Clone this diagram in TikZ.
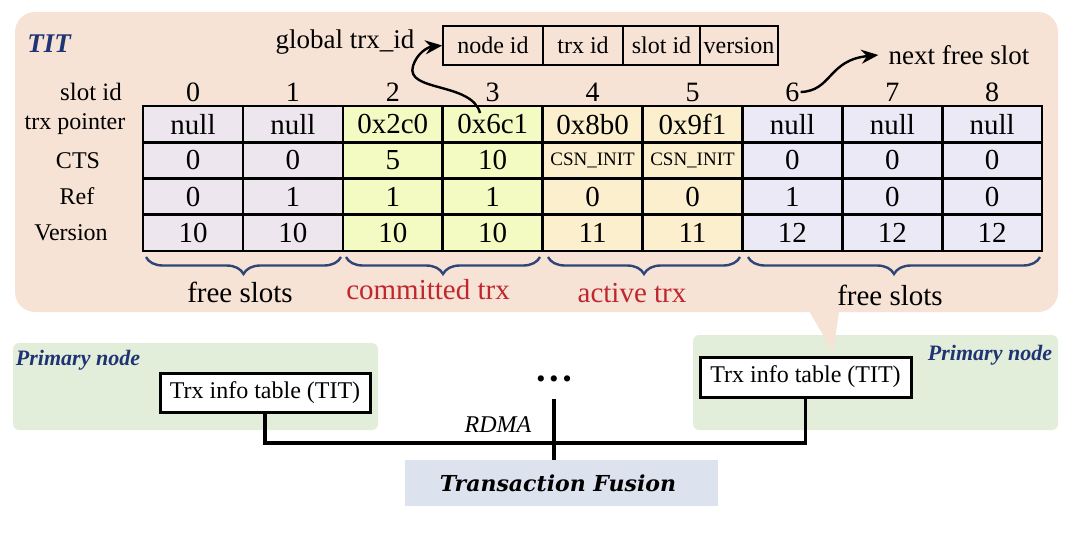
\documentclass[tikz,border=0pt]{standalone}
\usepackage{fontspec}
\setmainfont{Liberation Serif}
\newfontfamily\tffont{DejaVu Serif}
\usetikzlibrary{arrows.meta,decorations.pathreplacing,calc}
\definecolor{peach}{HTML}{F6E3D5}
\definecolor{greenbg}{HTML}{E3EEDA}
\definecolor{tfbg}{HTML}{DCE3EF}
\definecolor{freeL}{HTML}{EEE6EE}
\definecolor{commit}{HTML}{F3FBC2}
\definecolor{activec}{HTML}{FBEFCD}
\definecolor{freeR}{HTML}{EBE9F6}
\definecolor{navy}{HTML}{1F3474}
\definecolor{bracec}{HTML}{2E4677}
\definecolor{redc}{HTML}{C0272D}
\newcommand\fs[1]{\fontsize{#1}{#1}\selectfont}
\newcommand\csn{{\fs{19}CSN\_INIT}}
\tikzset{
  cell/.style={draw, line width=2.6pt, minimum width=99.9pt, minimum height=36.2pt, inner sep=0pt, font=\fs{29}},
  rowlab/.style={inner sep=0pt, font=\fs{24}},
  slotnum/.style={inner sep=1pt, font=\fs{28}},
  hdrcell/.style={draw, line width=1.6pt, minimum height=39pt, inner sep=0pt, font=\fs{24}},
  bracedeco/.style={draw=bracec, line width=2.4pt, decorate, decoration={brace, mirror, amplitude=17pt}},
  bracelab/.style={inner sep=0pt, font=\fs{29}},
  titbox/.style={draw, fill=white, line width=3pt, inner sep=0pt, font=\fs{24}},
  primlab/.style={inner sep=0pt, text=navy, font=\fs{22}\bfseries\itshape},
  wire/.style={line width=3.2pt},
  bigarrow/.style={line width=2.4pt, -{Stealth[length=17pt,width=14pt]}},
}
\begin{document}
\begin{tikzpicture}[x=1pt,y=-1pt]
\useasboundingbox (0,0) rectangle (1080,533);
% backgrounds
\fill[peach, rounded corners=20pt] (15,12) rectangle (1058,312);
\fill[greenbg, rounded corners=6pt] (13,343) rectangle (378,430);
\fill[greenbg, rounded corners=6pt] (693,335) rectangle (1058,430);
\fill[peach] (806,306) -- (840,306) -- (833,352) -- cycle;
% title
\node[inner sep=0pt, text=navy, font=\fs{27}\bfseries\itshape] (tit) at (49,44) {TIT};
% header box
\node[hdrcell, minimum width=100pt] (hnode) at (493,45.5) {node id};
\node[hdrcell, minimum width=80pt] (htrx) at (583,45.5) {trx id};
\node[hdrcell, minimum width=77pt] (hslot) at (661.5,45.5) {slot id};
\node[hdrcell, minimum width=78pt] (hver) at (739,45.5) {version};
\node[inner sep=0pt, font=\fs{27}] (glob) at (345,42) {global trx\_id};
\node[inner sep=0pt, font=\fs{27}] (nfree) at (959,55) {next free slot};
% row labels
\node[rowlab, font=\fs{25}] (lslot) at (91,92) {slot id};
\node[rowlab] (lptr) at (75,124.1) {trx pointer};
\node[rowlab] (lcts) at (78,160.4) {CTS};
\node[rowlab] (lref) at (77,196.6) {Ref};
\node[rowlab] (lver) at (71,232.9) {Version};
% cell fills
\fill[freeL] (143,106) rectangle (343,251);
\fill[commit] (343,106) rectangle (543,251);
\fill[activec] (543,106) rectangle (742,251);
\fill[freeR] (742,106) rectangle (1042,251);
% slot numbers
\foreach \v [count=\i from 0] in {0,1,2,3,4,5,6,7,8}
  \node[slotnum] (s\i) at ({193+99.9*\i},92) {\v};
% rows
\foreach \v [count=\i from 0] in {null,null,0x2c0,0x6c1,0x8b0,0x9f1,null,null,null}
  \node[cell] (a\i) at ({193+99.9*\i},124.1) {\v};
\foreach \v [count=\i from 0] in {0,0,5,10,\csn,\csn,0,0,0}
  \node[cell] (b\i) at ({193+99.9*\i},160.4) {\v};
\foreach \v [count=\i from 0] in {0,1,1,1,0,0,1,0,0}
  \node[cell] (c\i) at ({193+99.9*\i},196.6) {\v};
\foreach \v [count=\i from 0] in {10,10,10,10,11,11,12,12,12}
  \node[cell] (d\i) at ({193+99.9*\i},232.9) {\v};
% braces
\draw[bracedeco] (146,257) -- (341,257);
\draw[bracedeco] (346,257) -- (540,257);
\draw[bracedeco] (548,257) -- (740,257);
\draw[bracedeco] (748,257) -- (1040,257);
\node[bracelab] (bl1) at (240,292) {free slots};
\node[bracelab, text=redc] (bl2) at (428,290) {committed trx};
\node[bracelab, text=redc] (bl3) at (632,293) {active trx};
\node[bracelab] (bl4) at (890,295) {free slots};
% arrows
\coordinate (ptr) at (480,113);
\draw[bigarrow] (ptr) .. controls (472,82) and (405,92) .. (413,66) .. controls (417,53) and (428,47) .. (hnode.west);
\draw[bigarrow] (s6.east) .. controls (832,91) and (828,60) .. ([xshift=-10pt]nfree.west);
% bottom
\node[primlab] (p1) at (78,360) {Primary node};
\node[primlab] (p2) at (990,355) {Primary node};
\node[titbox, minimum width=210pt, minimum height=39pt] (t1) at (265,392.5) {Trx info table (TIT)};
\node[titbox, minimum width=211pt, minimum height=40pt] (t2) at (805.5,377) {Trx info table (TIT)};
\node[inner sep=0pt, font=\fs{26}] (dots) at (554,382) {\textbullet\kern4pt\textbullet\kern4pt\textbullet};
\node[fill=tfbg, minimum width=313pt, minimum height=46pt, inner sep=0pt] (tf) at (561.5,483) {};
\node[inner sep=0pt, font=\tffont\fs{22}\bfseries\itshape] (tft) at (558,483) {Transaction Fusion};
\node[inner sep=0pt, font=\fs{24}\itshape] (rdma) at (498,425) {RDMA};
\coordinate (bus) at (554,443);
\coordinate (bustop) at (554,399);
\draw[wire] (t1.south) |- (bus) -| (t2.south);
\draw[wire] (bustop) -- (bustop |- tf.north);
\end{tikzpicture}
\end{document}
